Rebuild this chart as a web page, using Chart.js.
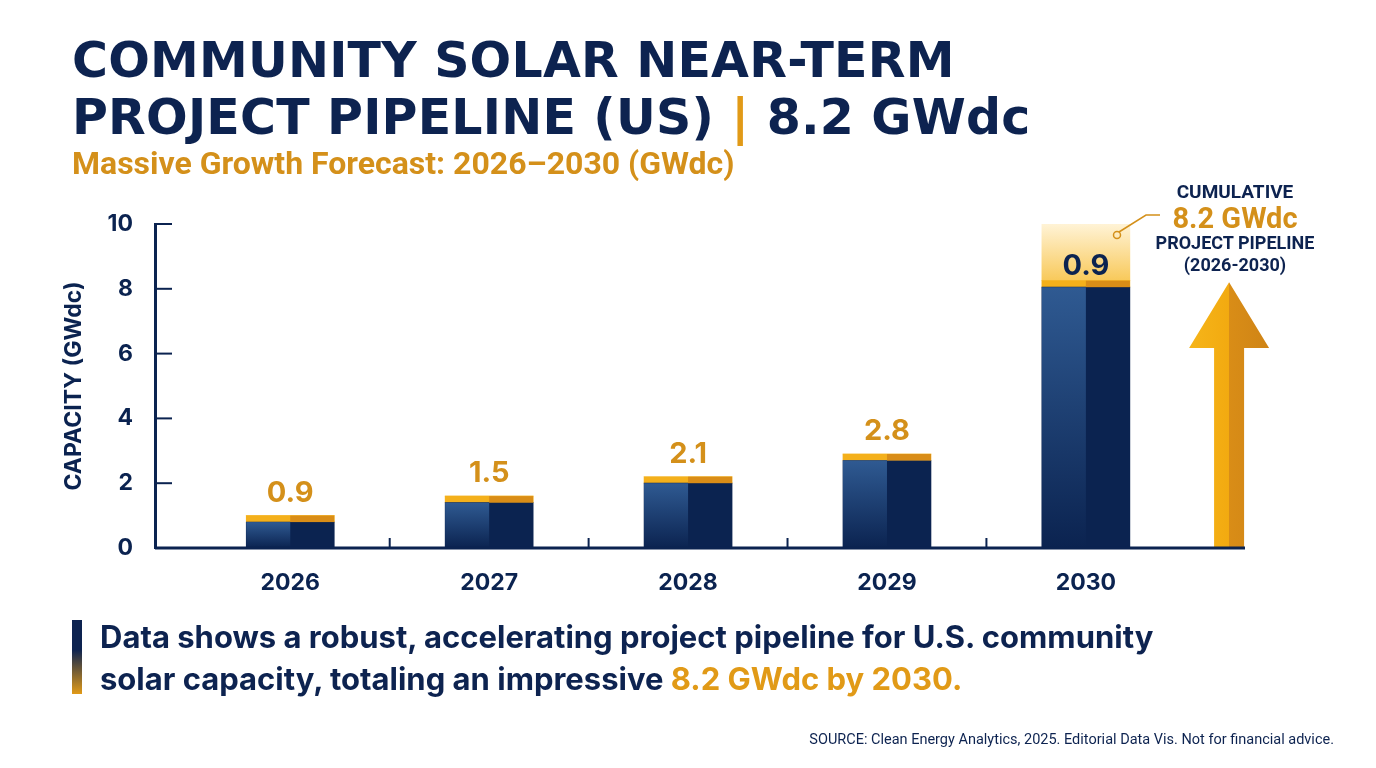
<!DOCTYPE html>
<html>
<head>
<meta charset="utf-8">
<script src="https://cdn.jsdelivr.net/npm/chart.js@4.4.1/dist/chart.umd.min.js"></script>
<style>
  html, body { margin:0; padding:0; background:#fff; }
  body { width:1376px; height:768px; position:relative; overflow:hidden; font-family:Inter, Roboto, sans-serif; }
  #c { position:absolute; left:0; top:0; }
  .title { position:absolute; left:72px; top:32px; font-family:"DejaVu Sans"; font-weight:bold; font-size:49px; line-height:57px; color:#0d2350; letter-spacing:0.2px; }
  .title span { color:#e19a17; }
  .sub { position:absolute; left:72px; top:144px; font-family:Roboto; font-weight:bold; font-size:32px; color:#d4901a; }
  .note { position:absolute; left:100px; top:616px; font-family:Inter; font-weight:700; font-size:31px; line-height:42px; color:#0d2350; }
  .note span { color:#e19a17; }
  .bar { position:absolute; left:72px; top:620px; width:10px; height:74px; background:linear-gradient(#0d2350 0%, #0d2350 40%, #e19a17 100%); }
  .src { position:absolute; right:42px; top:731px; font-family:Roboto; font-size:14.5px; color:#0d2350; }
  .cum { position:absolute; left:1130px; top:180px; width:210px; text-align:center; font-family:Roboto; font-weight:bold; color:#0d2350; }
</style>
</head>
<body>
<canvas id="c" width="1376" height="768"></canvas>
<div class="title">COMMUNITY SOLAR NEAR-TERM<br>PROJECT PIPELINE (US) <span>|</span> 8.2 GWdc</div>
<div class="sub">Massive Growth Forecast: 2026–2030 (GWdc)</div>
<div class="cum">
  <div style="font-size:19px;line-height:24px">CUMULATIVE</div>
  <div style="font-size:29px;line-height:28px;color:#d4901a">8.2 GWdc</div>
  <div style="font-size:18px;line-height:22px">PROJECT PIPELINE</div>
  <div style="font-size:18px;line-height:22px">(2026-2030)</div>
</div>
<div class="bar"></div>
<div class="note">Data shows a robust, accelerating project pipeline for U.S. community<br>solar capacity, totaling an impressive <span>8.2 GWdc by 2030.</span></div>
<div class="src">SOURCE: Clean Energy Analytics, 2025. Editorial Data Vis. Not for financial advice.</div>
<script>
// dati
var anni = ['2026', '2027', '2028', '2029', '2030'];
var base_navy = [0.8, 1.4, 2.0, 2.7, 8.05];
var cap_oro = [0.2, 0.2, 0.2, 0.2, 0.2];
var box_chiaro = [0, 0, 0, 0, 1.75];
var etichette = ['0.9', '1.5', '2.1', '2.8', '0.9'];
var tick_y = [0, 2, 4, 6, 8, 10];
var freccia_val = 8.2;
var freccia_x = 4.72;

var NAVY = '#0b2350';
var GOLD = '#f4b01b';

function punti(arr){
  return arr.map(function(v, i){ return {x: i, y: v}; });
}

// disegna metà destra scura / sinistra con gradiente, etichette, freccia
var extra = {
  id: 'extra',
  afterDatasetsDraw: function(chart){
    var ctx = chart.ctx;
    var y = chart.scales.y, x = chart.scales.x;
    var m0 = chart.getDatasetMeta(0), m1 = chart.getDatasetMeta(1), m2 = chart.getDatasetMeta(2);
    ctx.save();
    m0.data.forEach(function(b, i){
      var l = b.x - b.width / 2;
      var g = ctx.createLinearGradient(0, b.y, 0, b.base);
      g.addColorStop(0, '#2f5a92');
      g.addColorStop(1, '#0b2350');
      ctx.fillStyle = g;
      ctx.fillRect(l, b.y, b.width / 2, b.base - b.y);
      var c = m1.data[i];
      ctx.fillStyle = '#d98d17';
      ctx.fillRect(b.x, c.y, b.width / 2, c.base - c.y);
    });
    // etichette
    ctx.textAlign = 'center';
    ctx.font = 'bold 29px Inter';
    m1.data.forEach(function(c, i){
      if (i < 4) {
        ctx.fillStyle = '#d4901a';
        ctx.textBaseline = 'bottom';
        ctx.fillText(etichette[i], c.x, c.y - 8);
      }
    });
    var bx = m2.data[4];
    ctx.fillStyle = NAVY;
    ctx.textBaseline = 'middle';
    ctx.fillText(etichette[4], bx.x, y.getPixelForValue(8.7));
    // piccoli tick tra le categorie
    ctx.strokeStyle = NAVY; ctx.lineWidth = 2;
    for (var k = 0; k < 4; k++) {
      var px = x.getPixelForValue(k + 0.5);
      ctx.beginPath(); ctx.moveTo(px, y.bottom); ctx.lineTo(px, y.bottom - 10); ctx.stroke();
    }
    tick_y.forEach(function(t){
      if (t === 0) return;
      var py = y.getPixelForValue(t);
      ctx.beginPath(); ctx.moveTo(x.left, py); ctx.lineTo(x.left + 17, py); ctx.stroke();
    });
    // freccia
    var ax = x.getPixelForValue(freccia_x);
    var top = y.getPixelForValue(freccia_val);
    var hb = y.getPixelForValue(6.17);
    var g2 = ctx.createLinearGradient(ax - 40, 0, ax + 40, 0);
    g2.addColorStop(0, '#f6b51a'); g2.addColorStop(0.5, '#f2aa10'); g2.addColorStop(0.5, '#d98d17'); g2.addColorStop(1, '#cf8416');
    ctx.fillStyle = g2;
    ctx.beginPath();
    ctx.moveTo(ax, top); ctx.lineTo(ax + 40, hb); ctx.lineTo(ax + 15, hb); ctx.lineTo(ax + 15, y.bottom);
    ctx.lineTo(ax - 15, y.bottom); ctx.lineTo(ax - 15, hb); ctx.lineTo(ax - 40, hb); ctx.closePath(); ctx.fill();
    // linea guida
    ctx.strokeStyle = '#d4901a'; ctx.lineWidth = 1.5;
    ctx.beginPath(); ctx.arc(1117, 235, 3.5, 0, Math.PI * 2); ctx.stroke();
    ctx.beginPath(); ctx.moveTo(1119, 232); ctx.lineTo(1146, 215); ctx.lineTo(1160, 215); ctx.stroke();
    // asse x
    ctx.strokeStyle = NAVY; ctx.lineWidth = 3;
    ctx.beginPath(); ctx.moveTo(x.left, y.bottom); ctx.lineTo(x.right, y.bottom); ctx.stroke();
    ctx.restore();
  }
};

var lightGrad = function(context){
  var area = context.chart.chartArea;
  if (!area) return '#fbe3a0';
  var yy = context.chart.scales.y;
  var g = context.chart.ctx.createLinearGradient(0, yy.getPixelForValue(10), 0, yy.getPixelForValue(8.25));
  g.addColorStop(0, '#fff3d6'); g.addColorStop(1, '#f8c95a');
  return g;
};

new Chart(document.getElementById('c'), {
  type: 'bar',
  data: {
    datasets: [
      { data: punti(base_navy), backgroundColor: NAVY, barThickness: 88, stack: 's' },
      { data: punti(cap_oro), backgroundColor: GOLD, barThickness: 88, stack: 's' },
      { data: punti(box_chiaro), backgroundColor: lightGrad, barThickness: 88, stack: 's' }
    ]
  },
  options: {
    responsive: false,
    animation: false,
    layout: { padding: { left: 60, top: 224, right: 131, bottom: 0 } },
    plugins: { legend: { display: false }, tooltip: { enabled: false } },
    scales: {
      x: {
        type: 'linear', stacked: true, min: -0.68, max: 4.8, offset: false,
        grid: { display: false }, border: { display: false },
        afterBuildTicks: function(s){ s.ticks = anni.map(function(a, i){ return {value: i}; }); },
        afterFit: function(s){ s.height = 220; },
        ticks: { callback: function(v){ return anni[v]; }, color: NAVY, font: { family: 'Inter', weight: 'bold', size: 23 }, padding: 13, maxRotation: 0 }
      },
      y: {
        stacked: true, min: 0, max: 10,
        afterBuildTicks: function(s){ s.ticks = tick_y.map(function(t){ return {value: t}; }); },
        afterFit: function(s){ s.width = 95; },
        grid: { display: false },
        border: { display: true, color: NAVY, width: 3 },
        title: { display: true, text: 'CAPACITY (GWdc)', color: NAVY, font: { family: 'Inter', weight: 'bold', size: 23 }, padding: 0 },
        ticks: { color: NAVY, font: { family: 'Inter', weight: 'bold', size: 23 }, padding: 14 }
      }
    }
  },
  plugins: [extra]
});
</script>
</body>
</html>
